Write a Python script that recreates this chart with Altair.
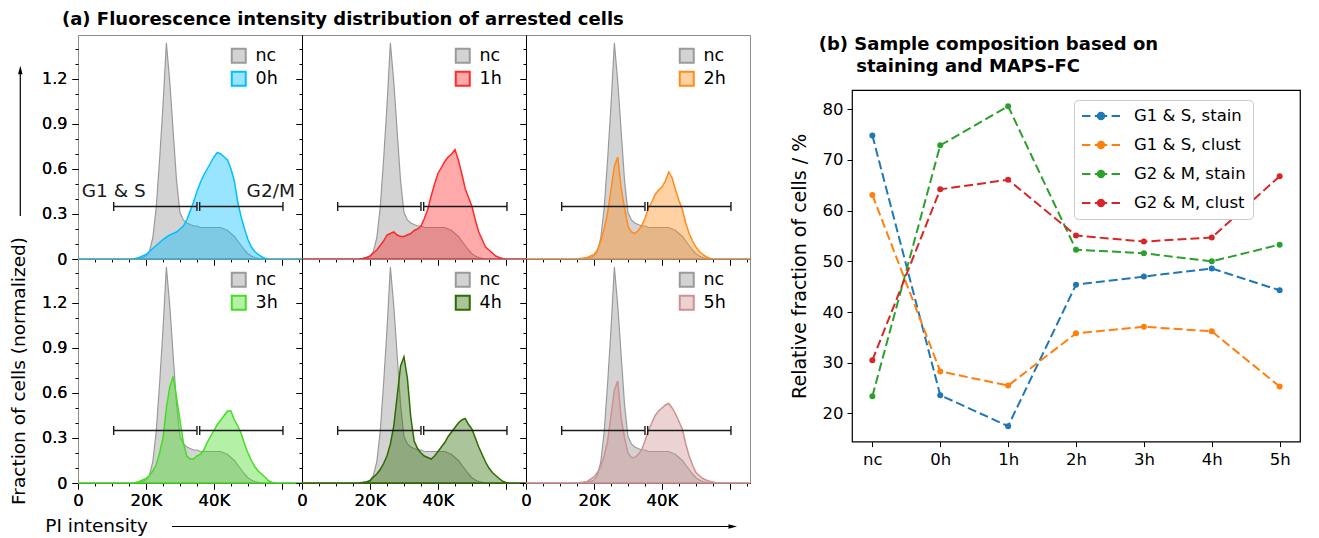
import altair as alt
import pandas as pd

FONT = "DejaVu Sans"

# ---------------- (a) histogram data (PI intensity in thousands) ----------------
PI_K = [0, 14, 15, 16, 17, 18, 19, 20, 21, 22, 23, 24, 25, 26, 27, 28, 29, 30, 31, 32,
        33, 34, 35, 36, 37, 38, 39, 40, 41, 42, 43, 44, 45, 46, 47, 48, 49, 50, 51, 52,
        53, 54, 55, 56, 57, 58, 59, 60, 61, 62, 66]

NC = [0, 0, 0, 0, 0.003, 0.006, 0.01, 0.02, 0.05, 0.14, 0.34, 0.66, 1.02, 1.44, 1.18, 0.85,
      0.52, 0.31, 0.26, 0.24, 0.23, 0.22, 0.22, 0.21, 0.21, 0.21, 0.21, 0.21, 0.21, 0.21, 0.20,
      0.19, 0.17, 0.15, 0.12, 0.09, 0.06, 0.035, 0.02, 0.01, 0.005, 0, 0, 0, 0, 0, 0, 0, 0, 0, 0]

H_0H = [0, 0, 0, 0, 0.003, 0.01, 0.02, 0.03, 0.05, 0.07, 0.09, 0.11, 0.13, 0.145, 0.16, 0.17,
        0.18, 0.20, 0.22, 0.26, 0.32, 0.38, 0.45, 0.51, 0.56, 0.60, 0.64, 0.68, 0.71, 0.70, 0.68,
        0.66, 0.60, 0.52, 0.38, 0.28, 0.20, 0.13, 0.08, 0.05, 0.03, 0.015, 0.005, 0, 0, 0, 0, 0,
        0, 0, 0]

H_1H = [0, 0, 0, 0, 0, 0.003, 0.01, 0.02, 0.04, 0.06, 0.09, 0.12, 0.16, 0.17, 0.18, 0.16,
        0.15, 0.15, 0.16, 0.17, 0.19, 0.20, 0.22, 0.27, 0.33, 0.42, 0.50, 0.57, 0.61, 0.65, 0.68,
        0.70, 0.73, 0.66, 0.57, 0.47, 0.41, 0.35, 0.26, 0.18, 0.13, 0.08, 0.06, 0.04, 0.02, 0.01,
        0.003, 0, 0, 0, 0]

H_2H = [0, 0, 0, 0.003, 0.006, 0.01, 0.02, 0.03, 0.06, 0.12, 0.20, 0.31, 0.46, 0.62, 0.68,
        0.47, 0.34, 0.22, 0.18, 0.17, 0.19, 0.22, 0.27, 0.34, 0.38, 0.43, 0.46, 0.48, 0.52, 0.58,
        0.54, 0.46, 0.39, 0.33, 0.24, 0.17, 0.12, 0.08, 0.05, 0.03, 0.015, 0.005, 0, 0, 0, 0, 0,
        0, 0, 0, 0]

H_3H = [0, 0, 0, 0, 0.003, 0.01, 0.02, 0.03, 0.05, 0.08, 0.12, 0.20, 0.30, 0.50, 0.64, 0.71,
        0.57, 0.42, 0.27, 0.18, 0.16, 0.16, 0.18, 0.19, 0.22, 0.27, 0.31, 0.35, 0.39, 0.42, 0.45,
        0.48, 0.48, 0.42, 0.38, 0.33, 0.26, 0.20, 0.15, 0.11, 0.08, 0.06, 0.04, 0.015, 0.005, 0,
        0, 0, 0, 0, 0]

H_4H = [0, 0, 0, 0, 0, 0.003, 0.006, 0.015, 0.04, 0.06, 0.09, 0.13, 0.18, 0.26, 0.38, 0.58,
        0.78, 0.84, 0.70, 0.44, 0.28, 0.23, 0.20, 0.18, 0.17, 0.16, 0.18, 0.21, 0.24, 0.27, 0.31,
        0.34, 0.37, 0.40, 0.42, 0.43, 0.39, 0.36, 0.30, 0.24, 0.19, 0.14, 0.10, 0.07, 0.05, 0.03,
        0.012, 0.004, 0, 0, 0]

H_5H = [0, 0, 0, 0.003, 0.006, 0.01, 0.025, 0.04, 0.07, 0.11, 0.18, 0.28, 0.45, 0.62, 0.68,
        0.43, 0.30, 0.20, 0.17, 0.17, 0.19, 0.22, 0.28, 0.35, 0.40, 0.45, 0.48, 0.50, 0.52, 0.53,
        0.50, 0.46, 0.41, 0.36, 0.26, 0.18, 0.12, 0.07, 0.05, 0.03, 0.02, 0.012, 0.006, 0, 0, 0,
        0, 0, 0, 0, 0]

TIMES = ["0h", "1h", "2h", "3h", "4h", "5h"]
HISTS = [H_0H, H_1H, H_2H, H_3H, H_4H, H_5H]
COLORS = ["#00bfff", "#ff2a2a", "#ff8c1a", "#44dd22", "#2e6b00", "#cf9191"]
NC_FILL, NC_LINE = "#d3d3d3", "#9a9a9a"
ALPHA = 0.4

BAR_G1 = [10.5, 35.0]
BAR_G2 = [35.8, 60.3]
BAR_Y = 0.35
GATE_LABELS = ["G1 & S", "G2/M"]
GATE_LABEL_X = [10.5, 56.7]
GATE_LABEL_Y = [0.455, 0.455]

X_MAJOR = [0, 20, 40, 60]
X_MINOR = [5, 10, 15, 25, 30, 35, 45, 50, 55, 65]
Y_MAJOR = [0, 0.3, 0.6, 0.9, 1.2]
Y_MINOR = [0.1, 0.2, 0.4, 0.5, 0.7, 0.8, 1.0, 1.1, 1.3, 1.4]

# ---------------- (b) composition data ----------------
CATS = ["nc", "0h", "1h", "2h", "3h", "4h", "5h"]
SERIES = ["G1 & S, stain", "G1 & S, clust", "G2 & M, stain", "G2 & M, clust"]
G1S_STAIN = [74.85, 23.6, 17.5, 45.4, 47.0, 48.6, 44.3]
G1S_CLUST = [63.1, 28.3, 25.5, 35.8, 37.1, 36.2, 25.3]
G2M_STAIN = [23.4, 72.9, 80.6, 52.3, 51.6, 50.0, 53.3]
G2M_CLUST = [30.5, 64.2, 66.1, 55.1, 53.9, 54.7, 66.8]
SERIES_COLORS = ["#1f77b4", "#ff7f0e", "#2ca02c", "#d62728"]
Y_TICKS_B = [20, 30, 40, 50, 60, 70, 80]

PW, PH = 224, 224
xs = alt.Scale(domain=[0, 65.9], nice=False, zero=False)
ys = alt.Scale(domain=[0, 1.4933], nice=False, zero=False)


def light(hex_color, a=ALPHA):
    """Colour of `hex_color` drawn with opacity `a` over white (for legend swatches)."""
    r, g, b = (int(hex_color[k:k + 2], 16) for k in (1, 3, 5))
    mix = [round(255 - a * (255 - c)) for c in (r, g, b)]
    return "#%02x%02x%02x" % tuple(mix)


def x_major(show_labels):
    return alt.Axis(values=X_MAJOR, tickSize=6, tickWidth=1, tickColor="black",
                    domain=True, domainColor="black", domainWidth=1, grid=False,
                    title=None, labels=show_labels, labelFlush=False, labelOverlap=False,
                    labelExpr="datum.value == 0 ? '0' : (datum.value == 60 ? '' : datum.value + 'K')",
                    labelFontSize=16.5, labelFont=FONT, labelColor="black", labelPadding=3,
                    orient="bottom")


def x_minor():
    return alt.Axis(values=X_MINOR, tickSize=3, tickWidth=1, tickColor="black",
                    domain=False, labels=False, grid=False, title=None, orient="bottom")


def y_major(show_labels):
    return alt.Axis(values=Y_MAJOR, tickSize=6, tickWidth=1, tickColor="black",
                    domain=not show_labels, domainColor="black", domainWidth=1, grid=False,
                    title=None, labels=show_labels, labelFlush=False, labelOverlap=False,
                    labelExpr="datum.value == 0 ? '0' : format(datum.value, '.1f')",
                    labelFontSize=16, labelFont=FONT, labelColor="black", labelPadding=5,
                    orient="left")


def y_minor():
    return alt.Axis(values=Y_MINOR, tickSize=3, tickWidth=1, tickColor="black",
                    domain=False, labels=False, grid=False, title=None, orient="left")


def panel(i):
    row, col = divmod(i, 3)
    t = TIMES[i]
    n = len(PI_K)
    df = pd.DataFrame({"pi": PI_K + PI_K, "val": NC + HISTS[i],
                       "series": ["nc"] * n + [t] * n})
    dom = ["nc", t]
    xe = alt.X("pi:Q", scale=xs, axis=x_major(row == 1))
    ye = alt.Y("val:Q", stack=None, scale=ys, axis=y_major(col == 0))
    base = alt.Chart(df)
    nc_area = base.transform_filter(alt.datum.series == "nc").mark_area(
        fill=NC_FILL, stroke=NC_LINE, strokeWidth=1.2).encode(x=xe, y=ye)
    t_area = base.transform_filter(alt.datum.series == t).mark_area(
        fill=COLORS[i], fillOpacity=ALPHA, stroke=COLORS[i], strokeWidth=1.5).encode(x=xe, y=ye)
    minor = base.mark_point(opacity=0).encode(
        x=alt.X("pi:Q", scale=xs, axis=x_minor()),
        y=alt.Y("val:Q", scale=ys, axis=y_minor()))

    # legend swatches (invisible zero-size squares carry the legend)
    leg = alt.Legend(title=None, orient="none", legendX=152, legendY=12, padding=0,
                     symbolType="square", symbolSize=196, symbolStrokeWidth=2,
                     labelFontSize=17.5, labelFont=FONT, labelColor="black",
                     labelOffset=8, rowPadding=0)
    legend_layer = base.mark_square(size=0, filled=True, opacity=1).encode(
        x=alt.X("pi:Q", scale=xs, axis=None), y=alt.Y("val:Q", scale=ys, axis=None),
        fill=alt.Fill("series:N", scale=alt.Scale(domain=dom, range=[NC_FILL, light(COLORS[i])]),
                      legend=leg),
        stroke=alt.Stroke("series:N", scale=alt.Scale(domain=dom, range=[NC_LINE, COLORS[i]]),
                          legend=leg))

    bars_df = pd.DataFrame({"x0": [BAR_G1[0], BAR_G2[0]], "x1": [BAR_G1[1], BAR_G2[1]],
                            "y": [BAR_Y, BAR_Y]})
    caps_df = pd.DataFrame({"x": BAR_G1 + BAR_G2, "y": [BAR_Y] * 4})
    bars = alt.Chart(bars_df).mark_rule(color="#1a1a1a", strokeWidth=1.4).encode(
        x=alt.X("x0:Q", scale=xs, axis=None), x2="x1:Q",
        y=alt.Y("y:Q", scale=ys, axis=None))
    caps = alt.Chart(caps_df).mark_tick(orient="vertical", size=9, thickness=1.4,
                                        color="#1a1a1a", opacity=1).encode(
        x=alt.X("x:Q", scale=xs, axis=None), y=alt.Y("y:Q", scale=ys, axis=None))

    layers = [nc_area, t_area, bars, caps, minor, legend_layer]

    if i == 0:
        lab_df = pd.DataFrame({"x": GATE_LABEL_X, "y": GATE_LABEL_Y, "t": GATE_LABELS})
        layers.append(alt.Chart(lab_df).mark_text(fontSize=18.5, font=FONT, color="#1a1a1a").encode(
            x=alt.X("x:Q", scale=xs, axis=None), y=alt.Y("y:Q", scale=ys, axis=None), text="t:N"))
        arrow_df = pd.DataFrame({"a": [0]})
        layers.append(alt.Chart(arrow_df).mark_rule(color="black", strokeWidth=1.2).encode(
            x=alt.value(-57.7), y=alt.value(181), y2=alt.value(36)))
        layers.append(alt.Chart(arrow_df).mark_point(
            shape="M0,-1L0.45,0.7L-0.45,0.7Z", filled=True, size=100, color="black", opacity=1).encode(
            x=alt.value(-57.7), y=alt.value(35.7)))
    if i == 3:
        txt_df = pd.DataFrame({"t": ["Fraction of cells (normalized)"]})
        layers.append(alt.Chart(txt_df).mark_text(fontSize=18.5, font=FONT, color="black", angle=270,
                                                  baseline="middle", align="center").encode(
            x=alt.value(-58.7), y=alt.value(112), text="t:N"))
        pi_df = pd.DataFrame({"t": ["PI intensity"]})
        layers.append(alt.Chart(pi_df).mark_text(fontSize=18.5, font=FONT, color="black",
                                                 baseline="middle", align="left").encode(
            x=alt.value(-32.7), y=alt.value(266.7), text="t:N"))
        layers.append(alt.Chart(pi_df).mark_rule(color="black", strokeWidth=1.2).encode(
            x=alt.value(94), x2=alt.value(652), y=alt.value(267.5)))
        layers.append(alt.Chart(pi_df).mark_point(
            shape="M1,0L-0.7,0.45L-0.7,-0.45Z", filled=True, size=100, color="black", opacity=1).encode(
            x=alt.value(654), y=alt.value(267.5)))

    ch = alt.layer(*layers).resolve_axis(x="independent", y="independent").properties(
        width=PW, height=PH, view=alt.ViewBackground(stroke="#8c8c8c", strokeWidth=1))
    if i == 0:
        ch = ch.properties(title=alt.Title("(a) Fluorescence intensity distribution of arrested cells",
                                           anchor="start", frame="group", dx=-16, offset=6,
                                           fontSize=18, fontWeight="bold", font=FONT,
                                           color="black"))
    return ch


panels = [panel(i) for i in range(6)]
indep = dict(fill="independent", stroke="independent")
left = alt.concat(*panels, columns=3, spacing=0, bounds="flush").resolve_scale(**indep)

# ---------------- (b) ----------------
rows = []
for s, vals in zip(SERIES, [G1S_STAIN, G1S_CLUST, G2M_STAIN, G2M_CLUST]):
    for c, v in zip(CATS, vals):
        rows.append({"cat": c, "val": v, "series": s})
rdf = pd.DataFrame(rows)

# legend glyph: dashed line with a dot, 38 px long on a 16 px symbol box
LEG_PATH = ("M-1,0H0.05M0.6,0H2.15M2.7,0H3.75"
            "M0.975,0A0.4,0.4,0,1,1,1.775,0A0.4,0.4,0,1,1,0.975,0Z")
cscale = alt.Scale(domain=SERIES, range=SERIES_COLORS)
rleg = alt.Legend(title=None, orient="none", legendX=222, legendY=10, padding=7,
                  symbolType=LEG_PATH, symbolSize=256, symbolStrokeWidth=2,
                  labelFontSize=16.5, labelFont=FONT, labelColor="black", labelOffset=35,
                  rowPadding=11, fillColor="white", strokeColor="#cccccc", cornerRadius=4)
xr = alt.X("cat:N", sort=CATS, scale=alt.Scale(type="point", padding=0.3),
           axis=alt.Axis(title=None, labelAngle=0, labelFontSize=16.5, labelFont=FONT,
                         labelColor="black", tickSize=5, tickColor="black", labelPadding=5,
                         domain=False, grid=False))
yr = alt.Y("val:Q", scale=alt.Scale(domain=[14.45, 83.8], nice=False, zero=False),
           axis=alt.Axis(values=Y_TICKS_B, title="Relative fraction of cells / %",
                         titleFontSize=19, titleFont=FONT, titleFontWeight="normal",
                         titleColor="black", titlePadding=13, labelFontSize=16.5, labelFont=FONT,
                         labelColor="black", tickSize=5, tickColor="black", labelPadding=4,
                         domain=False, grid=False))
col = alt.Color("series:N", scale=cscale, legend=rleg, sort=SERIES)
lines = alt.Chart(rdf).mark_line(strokeDash=[9, 4], strokeWidth=2).encode(x=xr, y=yr, color=col)
pts = alt.Chart(rdf).mark_point(filled=True, size=36, opacity=1).encode(x=xr, y=yr, color=col)
right = alt.layer(lines, pts).properties(
    width=448, height=351.6,
    view=alt.ViewBackground(stroke="black", strokeWidth=1.2),
    title=alt.Title(["(b) Sample composition based on",
                     "\u200b" + "\u00a0" * 6 + "staining and MAPS-FC"],
                    anchor="start", frame="group", dx=-33.3, offset=14, fontSize=18,
                    fontWeight="bold", font=FONT, color="black", lineHeight=21.7))

spacer = alt.Chart(pd.DataFrame({"a": [0]})).mark_point(opacity=0).encode(
    x=alt.value(0), y=alt.value(0)).properties(
    width=448, height=54.7, view=alt.ViewBackground(stroke="transparent"))
right_col = alt.vconcat(spacer, right, spacing=0, bounds="flush").resolve_scale(color="independent")

chart = alt.hconcat(left, right_col, spacing=34).resolve_scale(
    fill="independent", stroke="independent", color="independent"
).properties(padding={"left": 1, "top": 2, "right": 5, "bottom": 5}
).configure(font=FONT).configure_text(font=FONT)

chart.save("out.html", embed_options={"renderer": "svg", "actions": False})
